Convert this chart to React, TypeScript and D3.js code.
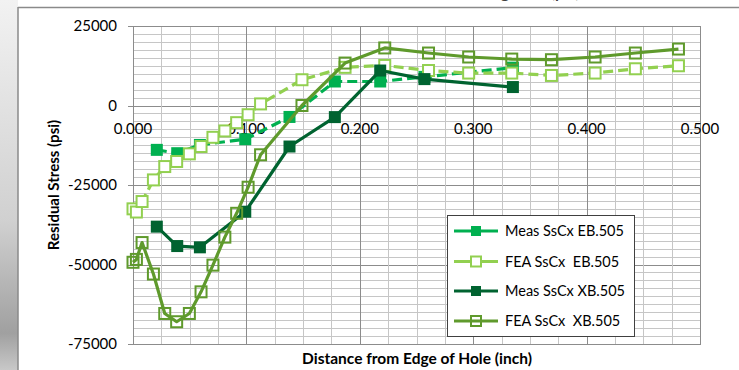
import React from "react";
import * as d3 from "d3";

const measX = [0.021, 0.039, 0.059, 0.099, 0.138, 0.178, 0.218, 0.257, 0.335];
const feaX = [0.0, 0.003, 0.008, 0.018, 0.028, 0.0385, 0.0497, 0.06, 0.0705, 0.081, 0.0914, 0.1015, 0.1125, 0.149, 0.187, 0.222, 0.2606, 0.296, 0.334, 0.369, 0.4075, 0.443, 0.481];

const measEB = [-13950, -15000, -12400, -10600, -3600, 7550, 7550, 9000, 11900];
const feaEB = [-32500, -33500, -30200, -23400, -19200, -17600, -15200, -12900, -10000, -8000, -5400, -2900, 500, 8100, 12000, 12600, 11000, 10200, 10200, 9450, 10200, 11550, 12500];
const measXB = [-38100, -44200, -44600, -33400, -12900, -3650, 11000, 8300, 5800];
const feaXB = [-49300, -48400, -43100, -53000, -65400, -68000, -65400, -58600, -50200, -41400, -33900, -25700, -15500, 0, 13350, 18100, 16500, 15250, 14600, 14400, 15250, 16500, 17750];

const seriesNames = ["Meas SsCx EB.505", "FEA SsCx  EB.505", "Meas SsCx XB.505", "FEA SsCx  XB.505"];
const xTicks = [0, 0.1, 0.2, 0.3, 0.4, 0.5];
const yTicks = [25000, 0, -25000, -50000, -75000];

const W = 739, H = 370;
const FONT = "Lato, 'Open Sans', sans-serif";

export default function App() {
  const x = d3.scaleLinear().domain([0, 0.5]).range([133, 700]);
  const y = d3.scaleLinear().domain([-75000, 25000]).range([344, 26]);

  const series = [
    { name: seriesNames[0], xs: measX, ys: measEB, color: "#00B050", dash: "10,5", filled: true, fill: "#00B050" },
    { name: seriesNames[1], xs: feaX, ys: feaEB, color: "#92D050", dash: "10,5", filled: false, fill: "#ffffff" },
    { name: seriesNames[2], xs: measX, ys: measXB, color: "#006330", dash: null, filled: true, fill: "#006330" },
    { name: seriesNames[3], xs: feaX, ys: feaXB, color: "#5F9A2C", dash: null, filled: false, fill: "none" },
  ];

  const line = d3.line<[number, number]>().x((d) => x(d[0])).y((d) => y(d[1]));

  const minorX = d3.range(0, 0.5001, 0.025);
  const minorY = d3.range(-75000, 25001, 2500);

  const [x0, x1] = x.range();
  const [yb, yt] = y.range();

  const legendY = [231, 261.5, 291, 321];

  return (
    <svg width={W} height={H} style={{ position: "absolute", left: 0, top: 0, background: "#fff" }}>
      <defs>
        <linearGradient id="strip" x1="0" y1="0" x2="0" y2="1">
          <stop offset="0" stopColor="#f2f2f2" />
          <stop offset="0.6" stopColor="#d0d0d0" />
          <stop offset="0.9" stopColor="#a0a0a0" />
          <stop offset="1" stopColor="#c8c8c8" />
        </linearGradient>
        <clipPath id="top">
          <rect x={0} y={0} width={W} height={7} />
        </clipPath>
      </defs>
      <rect x={0} y={0} width={18} height={H} fill="url(#strip)" />
      <text x={470} y={-2} textAnchor="middle" fontFamily={FONT} fontSize={16} fontWeight="bold" fill="#404040" clipPath="url(#top)">
        Residual Stress along Hole (psi)
      </text>
      <line x1={18} y1={7.5} x2={W} y2={7.5} stroke="#8a8a8a" strokeWidth={1.5} />
      <line x1={18} y1={7} x2={18} y2={H} stroke="#8a8a8a" strokeWidth={1.5} />

      {/* gridlines */}
      {minorY.map((v, i) => (
        <line key={"hy" + i} x1={x0} x2={x1} y1={Math.round(y(v)) + 0.5} y2={Math.round(y(v)) + 0.5}
          stroke={v % 25000 === 0 ? "#8c8c8c" : "#c6c6c6"} strokeWidth={1} />
      ))}
      {minorX.map((v, i) => (
        <line key={"vx" + i} y1={yt} y2={yb} x1={Math.round(x(v)) + 0.5} x2={Math.round(x(v)) + 0.5}
          stroke={i % 4 === 0 ? "#8c8c8c" : "#c6c6c6"} strokeWidth={1} />
      ))}
      <rect x={x0 + 0.5} y={yt + 0.5} width={x1 - x0} height={yb - yt} fill="none" stroke="#8c8c8c" />

      {/* y axis */}
      {yTicks.map((v) => (
        <g key={"yt" + v}>
          <line x1={x0 - 5} x2={x0} y1={Math.round(y(v)) + 0.5} y2={Math.round(y(v)) + 0.5} stroke="#8c8c8c" />
          <text x={117} y={y(v)} dy="0.35em" textAnchor="end" fontFamily={FONT} fontSize={15} fill="#000">
            {v}
          </text>
        </g>
      ))}
      {/* x axis at 0 */}
      {xTicks.map((v) => (
        <g key={"xt" + v}>
          <text x={x(v)} y={y(0) + 23} dy="0.35em" textAnchor="middle" fontFamily={FONT} fontSize={15} fill="#000">
            {v.toFixed(3)}
          </text>
        </g>
      ))}

      {/* series */}
      {series.map((s, si) => {
        const pts: [number, number][] = s.xs.map((xv, i) => [xv, s.ys[i]]);
        return (
          <g key={"s" + si}>
            <path d={line(pts) || ""} fill="none" stroke={s.color} strokeWidth={3.2}
              strokeDasharray={s.dash || undefined} strokeLinejoin="round" />
            {pts.map((p, i) =>
              s.filled ? (
                <rect key={i} x={x(p[0]) - 6} y={y(p[1]) - 6} width={12} height={12} fill={s.fill} />
              ) : (
                <rect key={i} x={x(p[0]) - 5.5} y={y(p[1]) - 5.5} width={11} height={11} fill={s.fill}
                  stroke={s.color} strokeWidth={2} />
              )
            )}
          </g>
        );
      })}

      {/* legend */}
      <rect x={447.5} y={215.5} width={187} height={121} fill="#fff" stroke="#404040" strokeWidth={1} />
      {series.map((s, si) => (
        <g key={"l" + si}>
          <line x1={454} x2={498} y1={legendY[si]} y2={legendY[si]} stroke={s.color} strokeWidth={3.2} />
          {s.filled ? (
            <rect x={476 - 5} y={legendY[si] - 5} width={10} height={10} fill={s.fill} />
          ) : (
            <rect x={476 - 5} y={legendY[si] - 5} width={10} height={10} fill={s.fill} stroke={s.color} strokeWidth={2} />
          )}
          <text x={505} y={legendY[si]} dy="0.35em" fontFamily={FONT} fontSize={14.5} fill="#000" style={{ whiteSpace: "pre" }}>
            {s.name}
          </text>
        </g>
      ))}

      {/* axis titles */}
      <text transform={`translate(54,${(yt + yb) / 2}) rotate(-90)`} textAnchor="middle" dy="0.35em"
        fontFamily={FONT} fontSize={15} fontWeight="bold" fill="#000">
        Residual Stress (psi)
      </text>
      <text x={417} y={359} dy="0.35em" textAnchor="middle" fontFamily={FONT} fontSize={15.5} fontWeight="bold" fill="#000">
        Distance from Edge of Hole (inch)
      </text>
    </svg>
  );
}
